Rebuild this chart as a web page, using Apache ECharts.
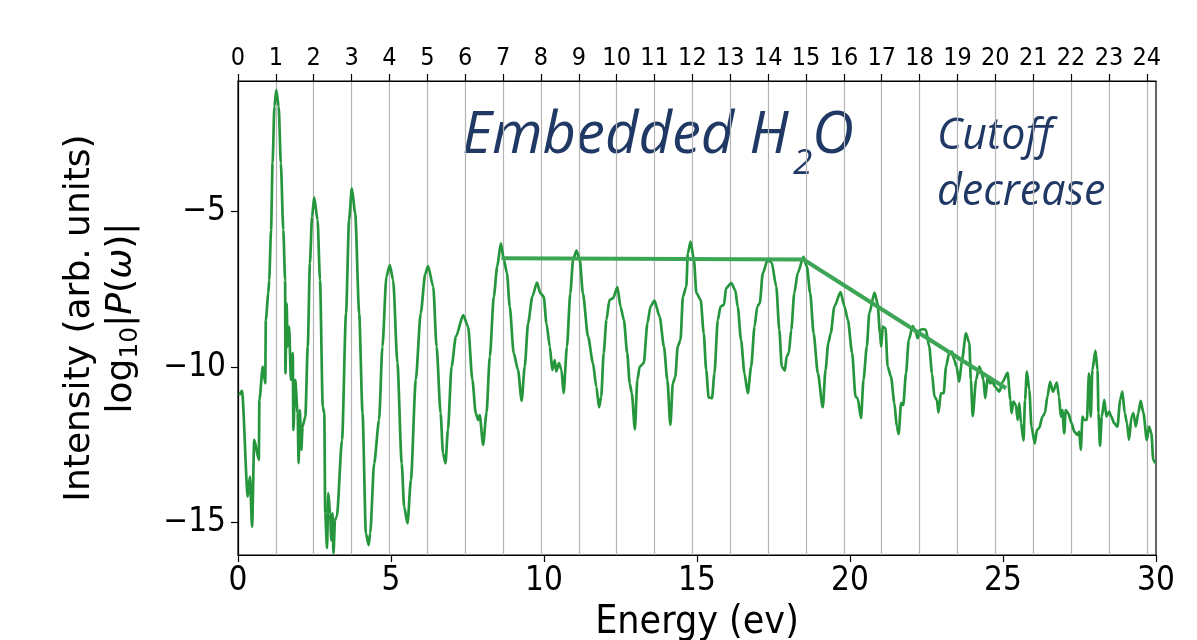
<!DOCTYPE html>
<html><head><meta charset="utf-8">
<script src="https://cdn.jsdelivr.net/npm/echarts@6/dist/echarts.min.js"></script>
<style>html,body{margin:0;padding:0;background:#fff}#c{width:1197px;height:640px}</style>
</head><body><div id="c"></div>
<script>
// ---- data ----
const energy = [
 0.04,0.13,0.32,0.39,0.46,0.53,0.68,0.70,0.81,0.89,0.91,0.99,1.02,1.08,1.13,1.19,1.25,1.33,1.40,1.48,1.54,1.55,1.59,1.62,1.67,1.73,1.79,1.81,1.87,1.95,1.98,2.02,2.07,2.11,2.20,2.28,2.35,2.42,2.49,2.60,2.68,2.77,2.82,2.85,2.91,2.95,3.01,3.05,3.09,3.12,3.17,3.23,3.40,3.53,3.63,3.72,3.83,3.96,4.07,4.18,4.27,4.32,4.45,4.61,4.72,4.85,4.96,5.07,5.21,5.35,5.43,5.54,5.65,5.81,5.97,6.12,
 6.21,6.38,6.49,6.62,6.70,6.78,6.86,6.98,7.12,7.36,7.52,7.66,7.77,7.85,7.90,8.01,8.12,8.23,8.36,8.47,8.59,8.69,8.79,8.88,9.01,9.15,9.27,9.37,9.48,9.62,9.77,9.88,9.99,10.08,10.19,10.27,10.35,10.40,10.49,10.57,10.64,10.75,10.86,10.95,11.06,11.17,11.27,11.44,11.60,11.71,11.80,11.87,11.95,12.04,12.14,
 12.25,12.40,12.50,12.61,12.72,12.80,12.87,12.97,13.05,13.13,13.26,13.38,13.48,13.61,13.78,13.92,14.03,14.13,14.21,14.29,14.37,14.46,14.54,14.65,14.70,14.79,14.90,14.98,15.12,15.22,15.30,15.38,15.49,15.57,15.68,15.77,15.88,15.95,16.12,16.25,16.33,16.44,16.55,16.66,16.77,16.88,16.97,17.05,17.15,17.31,17.44,17.59,17.69,17.77,17.87,17.93,18.00,18.08,18.18,
 18.29,18.48,18.59,18.70,18.81,18.95,19.11,19.20,19.29,19.37,19.49,19.69,19.82,19.93,20.07,20.18,20.25,20.36,20.44,20.55,20.63,20.80,20.90,20.98,21.02,21.07,21.16,21.23,21.34,21.45,21.53,21.59,21.67,21.74,21.83,21.92,22.05,22.16,22.21,22.29,22.40,22.48,22.59,22.68,22.76,22.84,22.89,22.97,23.06,23.14,23.24,23.33,23.41,23.48,23.57,23.66,23.79,23.90,23.95,24.01,24.12,24.22,
 24.28,24.36,24.42,24.50,24.58,24.66,24.74,24.88,24.99,25.15,25.24,25.28,25.34,25.42,25.48,25.53,25.59,25.67,25.72,25.78,25.86,25.93,26.04,26.11,26.18,26.29,26.37,26.45,26.54,26.63,26.76,26.83,26.89,26.94,27.00,27.05,27.13,27.24,27.33,27.43,27.49,27.54,27.60,27.65,27.74,27.81,27.87,27.92,28.02,28.09,28.12,28.17,28.23,28.31,28.38,28.47,28.54,28.63,28.74,28.83,28.90,28.98,29.05,29.12,29.20,29.26,29.34,29.42,29.50,29.59,29.70,29.77,29.85,29.91,29.97
];
const logIntensity = [
 -10.9,-10.76,-14.16,-13.52,-15.13,-12.34,-12.98,-11.05,-9.98,-10.52,-8.48,-7.62,-7.2,-5.59,-3.44,-1.62,-1.09,-1.62,-3.44,-5.59,-7.2,-10.2,-7.95,-9.34,-8.7,-10.41,-9.55,-12.02,-10.41,-11.48,-13.09,-11.38,-12.66,-11.91,-11.59,-9.34,-6.66,-5.16,-4.54,-5.27,-7.2,-11.27,-11.48,-14.7,-15.82,-14.05,-14.7,-15.56,-14.7,-15.98,-14.91,-14.81,-12.34,-8.27,-5.27,-4.25,-5.05,-8.27,-11.48,-15.34,-15.72,-15.34,-13.09,-11.7,-9.34,-7.09,-6.72,-7.2,-9.87,-13.09,-14.49,-15.02,-13.63,-10.41,-8.27,-7.0,
 -6.75,-7.41,-9.34,-11.48,-12.77,-13.09,-12.02,-9.98,-9.02,-8.33,-8.7,-10.41,-11.48,-11.7,-11.54,-12.5,-11.48,-9.66,-7.73,-6.77,-6.02,-6.55,-6.98,-8.05,-9.55,-10.09,-11.08,-9.98,-8.59,-7.73,-7.28,-7.62,-7.73,-8.59,-9.34,-10.09,-9.77,-10.14,-9.87,-10.09,-10.84,-9.34,-7.62,-6.55,-6.25,-6.55,-7.62,-9.02,-9.87,-10.63,-11.29,-10.95,-9.55,-8.48,-7.84,
 -7.79,-7.43,-8.05,-8.48,-9.55,-10.52,-10.84,-12.0,-10.41,-9.98,-9.87,-8.59,-8.05,-7.86,-8.38,-9.34,-10.41,-11.86,-10.52,-10.31,-9.34,-9.13,-7.73,-7.41,-6.34,-5.96,-6.55,-7.62,-7.84,-8.91,-10.09,-10.97,-11.0,-10.2,-8.48,-8.05,-8.0,-7.46,-7.3,-7.52,-8.05,-9.13,-10.2,-10.84,-9.98,-8.7,-8.05,-7.95,-6.98,-6.55,-6.64,-7.41,-8.8,-9.98,-10.11,-9.66,-9.55,-8.8,-7.62,
 -6.98,-6.45,-6.77,-7.62,-8.91,-10.2,-11.29,-10.09,-9.23,-8.91,-8.05,-7.59,-8.05,-8.48,-9.55,-10.95,-11.0,-11.64,-10.41,-9.34,-8.27,-7.6,-7.95,-8.91,-9.34,-8.7,-8.75,-9.98,-10.31,-11.16,-11.91,-12.15,-11.16,-11.22,-10.2,-9.13,-8.68,-8.91,-9.07,-8.8,-8.78,-8.8,-9.34,-10.2,-10.95,-11.05,-11.46,-10.84,-10.84,-9.98,-9.55,-9.5,-9.77,-9.98,-10.47,-9.77,-8.91,-9.23,-10.41,-11.57,-10.41,-9.98,
 -10.09,-10.41,-11.0,-10.31,-10.52,-10.47,-10.63,-10.79,-10.47,-10.18,-11.05,-11.48,-11.11,-11.22,-11.7,-11.16,-11.8,-12.36,-11.05,-10.14,-10.73,-11.91,-12.45,-12.02,-11.96,-11.59,-11.48,-10.95,-10.47,-10.79,-10.5,-10.95,-11.59,-11.38,-12.13,-11.38,-11.48,-11.8,-12.07,-12.18,-12.07,-12.66,-11.59,-11.7,-11.7,-10.2,-11.59,-10.09,-9.47,-10.09,-11.48,-12.53,-11.59,-11.05,-11.59,-11.43,-11.59,-11.8,-11.91,-11.05,-10.79,-11.48,-11.8,-12.34,-11.59,-11.48,-11.91,-11.48,-11.08,-11.48,-12.34,-11.91,-12.13,-12.98,-13.09
];
const trendEnergy = [8.61, 18.48, 25.10];
const trendLog = [-6.50, -6.54, -10.68];
const photonEnergy = 1.2375;              // eV per harmonic order (top axis)
const energyTicks = [0, 5, 10, 15, 20, 25, 30];
const intensityTicks = [-15, -10, -5];
const harmonicTicks = [0,1,2,3,4,5,6,7,8,9,10,11,12,13,14,15,16,17,18,19,20,21,22,23,24];

// ---- chart ----
const curve = energy.map((e, i) => [e, logIntensity[i]]);
const trend = trendEnergy.map((e, i) => [e, trendLog[i]]);
const tickFont = "'DejaVu Sans Condensed', 'DejaVu Sans', sans-serif";
const labFont = "'DejaVu Sans', sans-serif";
const navy = '#1f3864';
const axLine = {show: true, lineStyle: {color: '#000', width: 1.2}};
const axTick = {show: true, inside: false, length: 7, lineStyle: {color: '#000', width: 1.2}};

const chart = echarts.init(document.getElementById('c'));
chart.setOption({
  animation: false,
  grid: {left: 238, right: 41, top: 81, bottom: 85, show: true, borderColor: '#000', borderWidth: 1.2,
         containLabel: false, outerBoundsMode: 'none'},
  xAxis: [
    {type: 'value', position: 'bottom', min: energyTicks[0], max: energyTicks[energyTicks.length - 1], interval: 5,
     axisLine: axLine, axisTick: axTick, splitLine: {show: false},
     axisLabel: {color: '#000', fontSize: 33, fontFamily: tickFont, margin: 10},
     name: 'Energy (ev)', nameLocation: 'middle', nameGap: 67,
     nameTextStyle: {fontSize: 39, fontFamily: tickFont, color: '#000', verticalAlign: 'middle'}},
    {type: 'value', position: 'top', min: 0, max: 30 / photonEnergy, interval: 1,
     axisLine: axLine,
     axisTick: Object.assign({}, axTick, {customValues: harmonicTicks}),
     axisLabel: {color: '#000', fontSize: 25, fontFamily: tickFont, margin: 10, customValues: harmonicTicks,
                 formatter: v => String(Math.round(v))},
     splitLine: {show: true, lineStyle: {color: '#b4b4b4', width: 1.2}}}
  ],
  yAxis: {type: 'value', min: -16.04, max: -0.8,
    axisLine: axLine,
    axisTick: Object.assign({}, axTick, {customValues: intensityTicks}),
    axisLabel: {color: '#000', fontSize: 33, fontFamily: tickFont, margin: 12, customValues: intensityTicks,
                formatter: v => (v < 0 ? '\u2212' + Math.abs(v) : String(v))},
    splitLine: {show: false},
    name: '{a|Intensity (arb. units)}\n{a|log}{s|10}{a||}{i|P}{a|(}{i|ω}{a|)|}',
    nameLocation: 'middle', nameRotate: 90, nameGap: 137,
    nameTextStyle: {color: '#000', align: 'center', verticalAlign: 'middle',
      rich: {
        a: {fontSize: 36, fontFamily: labFont, color: '#000', lineHeight: 42},
        i: {fontSize: 36, fontFamily: labFont, fontStyle: 'italic', color: '#000', lineHeight: 42},
        s: {fontSize: 25, fontFamily: labFont, color: '#000', lineHeight: 14, verticalAlign: 'bottom'}
      }}
  },
  series: [
    {type: 'line', xAxisIndex: 0, yAxisIndex: 0, data: curve, showSymbol: false, smooth: 0.25, smoothMonotone: 'x',
     lineStyle: {color: '#26963c', width: 2.7}, z: 2},
    {type: 'line', xAxisIndex: 0, yAxisIndex: 0, data: trend, showSymbol: false,
     lineStyle: {color: '#3da556', width: 4}, z: 3}
  ],
  graphic: [
    {type: 'text', x: 462, y: 136, style: {text: 'Embedded H', font: 'italic 58px "Open Sans"', fill: navy, verticalAlign: 'middle'}},
    {type: 'text', x: 793, y: 164, style: {text: '2', font: 'italic 35px "Open Sans"', fill: navy, verticalAlign: 'middle'}},
    {type: 'text', x: 812, y: 136, style: {text: 'O', font: 'italic 58px "Open Sans"', fill: navy, verticalAlign: 'middle'}},
    {type: 'text', x: 937, y: 137, style: {text: 'Cutoff', font: 'italic 43px "Open Sans"', fill: navy, verticalAlign: 'middle'}},
    {type: 'text', x: 937, y: 193, style: {text: 'decrease', font: 'italic 43px "Open Sans"', fill: navy, verticalAlign: 'middle'}}
  ]
});
</script></body></html>
